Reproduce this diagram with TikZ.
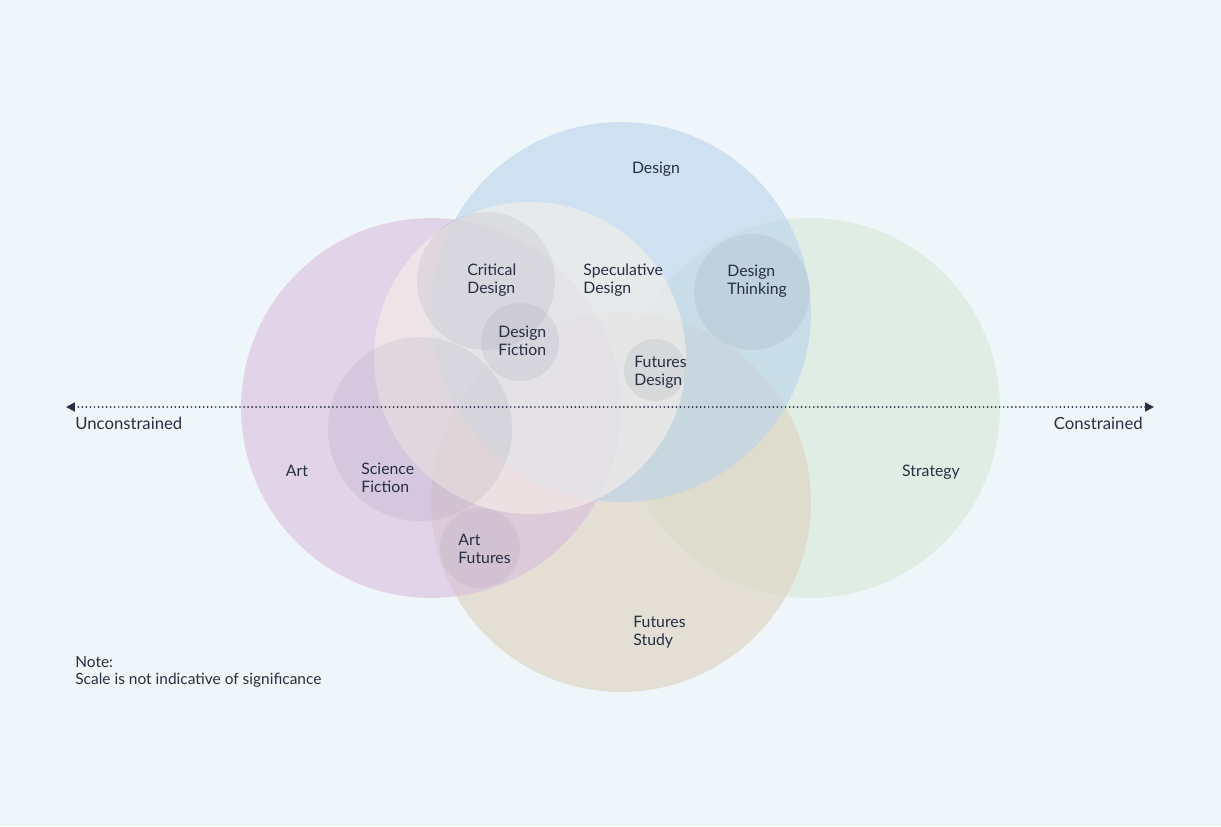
\documentclass[tikz,border=0pt]{standalone}
\usepackage{fontspec}
\setmainfont{Lato}
\usetikzlibrary{arrows.meta, positioning}

\definecolor{bgcol}{RGB}{239,246,249}
\definecolor{inkcol}{RGB}{38,46,66}
\definecolor{designcol}{RGB}{186,211,236}
\definecolor{artcol}{RGB}{217,189,221}
\definecolor{stratcol}{RGB}{214,231,214}
\definecolor{futcol}{RGB}{221,209,189}
\definecolor{speccol}{RGB}{248,240,232}
\definecolor{subcol}{RGB}{140,140,162}

\tikzset{
    area/.style={fill opacity=0.6},
    subarea/.style={fill=subcol, fill opacity=0.14},
    lbl/.style={font=\fontsize{9}{10}\selectfont, text=inkcol, align=left, inner sep=0pt, anchor=west},
    side/.style={font=\fontsize{9.5}{11}\selectfont, text=inkcol, inner sep=0pt}
}

\begin{document}
\begin{tikzpicture}[x=0.02cm, y=-0.02cm]
            \fill[bgcol] (0,0) rectangle (1221,826);
            \useasboundingbox (0,0) rectangle (1221,826);

            % circle centres
            \coordinate (des) at (621, 312);
            \coordinate (art) at (431, 408);
            \coordinate (str) at (810, 408);
            \coordinate (fut) at (621, 502);
            \coordinate (spec) at (530, 358);
            \coordinate (crit) at (486, 281);
            \coordinate (dfic) at (520, 342);
            \coordinate (fdes) at (655, 370);
            \coordinate (dthk) at (752, 292);
            \coordinate (scif) at (420, 429);
            \coordinate (artf) at (480, 548);

            \fill[stratcol, area] (str) circle (3.8cm);
            \fill[futcol, area] (fut) circle (3.8cm);
            \fill[artcol, area] (art) circle (3.8cm);
            \fill[designcol, area] (des) circle (3.8cm);
            \fill[speccol, area] (spec) circle (3.12cm);

            \fill[subarea] (crit) circle (1.38cm);
            \fill[subarea] (dfic) circle (0.78cm);
            \fill[subarea] (fdes) circle (0.62cm);
            \fill[subarea] (dthk) circle (1.16cm);
            \fill[subarea] (scif) circle (1.84cm);
            \fill[subarea] (artf) circle (0.8cm);

            % axis
            \coordinate (west) at (66, 407);
            \coordinate (east) at (1154, 407);
            \draw[inkcol, line width=1.1pt, line cap=round, dash pattern=on 0pt off 2.3pt,
                  {Triangle[length=5pt, width=5pt, line cap=butt]}-{Triangle[length=5pt, width=5pt, line cap=butt]}] (west) -- (east);

            \node[lbl, anchor=center] (ndes) at (656, 169) {Design};
            \node[lbl] (ncrit) at (467, 280) {Critical\\Design};
            \node[lbl] (nspec) at (583, 280) {Speculative\\Design};
            \node[lbl] (ndthk) at (727, 281) {Design\\Thinking};
            \node[lbl] (ndfic) at (498, 341) {Design\\Fiction};
            \node[lbl] (nfdes) at (634, 372) {Futures\\Design};
            \node[lbl, anchor=center] (nart) at (297, 471) {Art};
            \node[lbl] (nscif) at (361, 478) {Science\\Fiction};
            \node[lbl] (nartf) at (458, 549) {Art\\Futures};
            \node[lbl] (nfut) at (633, 632) {Futures\\Study};
            \node[lbl, anchor=center] (nstr) at (931, 472) {Strategy};

            \node[side, anchor=west] (uncon) at (75, 423) {Unconstrained};
            \node[side, anchor=east] (con) at (1143, 423) {Constrained};

            \node[lbl, font=\fontsize{8.8}{10}\selectfont] (note) at (75, 672) {Note:\\Scale is not indicative of significance};
\end{tikzpicture}
\end{document}
